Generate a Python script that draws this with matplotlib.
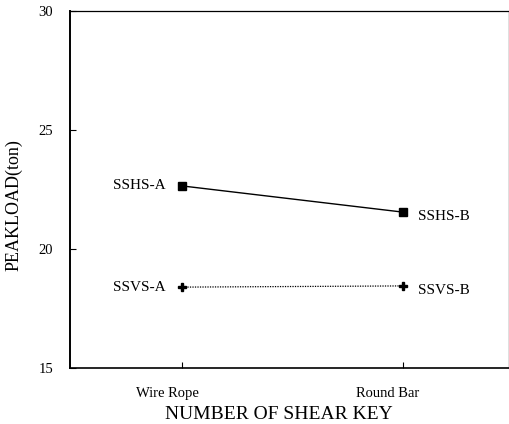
import numpy as np
import matplotlib.pyplot as plt
import matplotlib.transforms as mtransforms

plt.rcParams['font.family'] = ['Liberation Serif', 'DejaVu Serif']

# peak loads (ton) for each shear key type
keys = ['Wire Rope', 'Round Bar']
sshs = [22.65, 21.55]
ssvs = [18.4, 18.45]
sshs_names = ['SSHS-A', 'SSHS-B']
ssvs_names = ['SSVS-A', 'SSVS-B']

fig = plt.figure(figsize=(5.1, 4.24), dpi=100)
ax = fig.add_axes([0.137, 0.132, 0.861, 0.842])

x = np.arange(1, len(keys) + 1)
ax.plot(x, sshs, color='black', lw=1.0, marker='s', ms=6)
ax.plot(x, ssvs, color='black', lw=0.9, ls=(0, (1, 1)), marker='P', ms=6)

# labels: left point labelled on its left, right point on its right
for vals, names in [(sshs, sshs_names), (ssvs, ssvs_names)]:
    for xi, v, name in zip(x, vals, names):
        if xi == x[0]:
            ax.annotate(name, (xi, v), xytext=(-12, 0), textcoords='offset points',
                        ha='right', va='center', fontsize=11)
        else:
            ax.annotate(name, (xi, v), xytext=(11, -3), textcoords='offset points',
                        ha='left', va='center', fontsize=11)

ax.set_xlim(0.49, 2.48)
ax.set_ylim(15, 30)
ax.set_xticks(x)
ax.set_xticklabels(keys, fontsize=10.5)
ax.set_yticks([15, 20, 25, 30])
ax.tick_params(axis='both', direction='in', length=4, width=0.8)
ax.tick_params(axis='x', pad=14)
ax.tick_params(axis='y', pad=12, labelsize=10.5)

# tick labels sit a little left of their ticks
shift = mtransforms.ScaledTranslation(-15 / 100, 0, fig.dpi_scale_trans)
for lab in ax.get_xticklabels():
    lab.set_transform(lab.get_transform() + shift)

ax.spines['left'].set_linewidth(1.4)
ax.spines['bottom'].set_linewidth(1.2)
ax.spines['top'].set_linewidth(0.9)
ax.spines['right'].set_linewidth(0.9)

ax.set_xlabel('NUMBER OF SHEAR KEY', fontsize=14)
ax.xaxis.set_label_coords(0.475, -0.105)
ax.set_ylabel('PEAKLOAD(ton)', fontsize=13)
ax.yaxis.set_label_coords(-0.107, 0.457)

fig.savefig('out.png', dpi=100)
